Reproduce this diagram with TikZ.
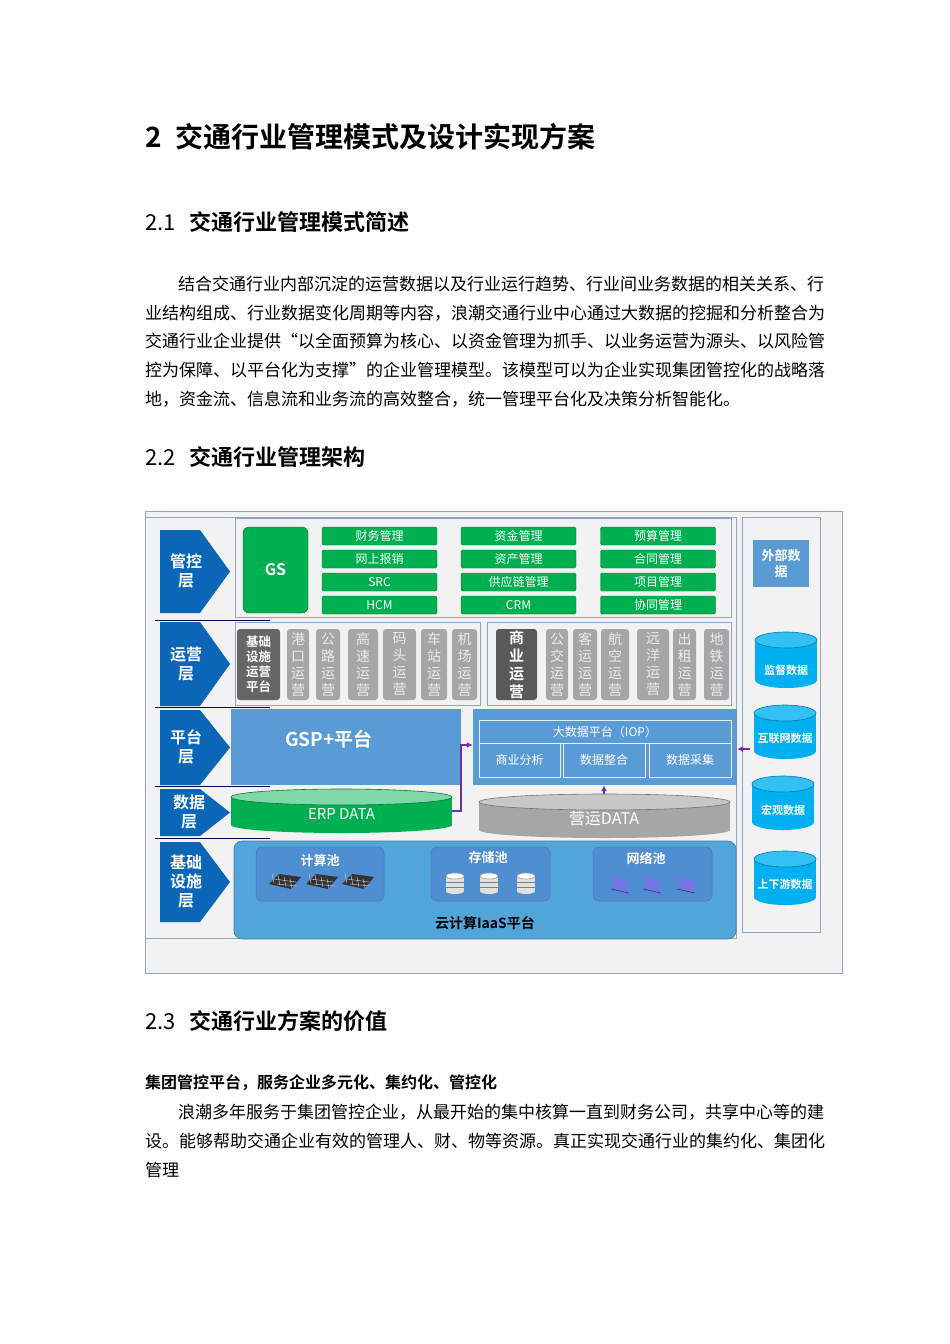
\documentclass[tikz,border=0pt]{standalone}
\usepackage{fontspec}
\usetikzlibrary{arrows.meta}
\setmainfont{Noto Sans CJK SC}[BoldFont=* Bold]
\definecolor{lblue}{HTML}{0B66B8}
\definecolor{mblue}{HTML}{5B9BD5}
\definecolor{pblue}{HTML}{4F8ED0}
\definecolor{ggreen}{HTML}{00B050}
\definecolor{cyanc}{HTML}{00B0F0}
\definecolor{bgg}{HTML}{F2F2F2}
\definecolor{frame}{HTML}{8EA6C4}
\definecolor{purp}{HTML}{7030A0}
\newcommand\fs[2]{\fontsize{#1}{#2}\selectfont}
\newcommand\mycyl[7]{%
 \colorlet{cylbody}{#6}\colorlet{cyltop}{#7}%
 \fill[cylbody] ({#1-#3},#2) rectangle ({#1+#3},{#2+#4});
 \fill[cylbody] (#1,{#2+#4}) ellipse[x radius=#3,y radius=#5];
 \filldraw[fill=cyltop,draw=cylbody!70!black,line width=0.6pt] (#1,#2) ellipse[x radius=#3,y radius=#5];}
\newcommand\lchev[4]{% x0 y0 x1 y1
 \fill[lblue] (#1,#2) -- ({#3-30},#2) -- (#3,{(#2+#4)/2}) -- ({#3-30},#4) -- (#1,#4) -- cycle;}
\begin{document}
\begin{tikzpicture}[x=1pt,y=-1pt,
 gbox/.style={fill=ggreen,draw=ggreen!70!black,line width=0.4pt,rounded corners=1.5pt,text=white,font=\fs{12}{12},inner sep=0pt},
 laylab/.style={text=white,font=\bfseries\fs{16}{19},align=center},
 vt/.style={fill=black!35,rounded corners=3pt,text=black!8,font=\fs{14}{17},align=center,inner sep=0pt},
 vtd/.style={fill=black!60,rounded corners=3pt,text=white,font=\bfseries\fs{14}{17},align=center,inner sep=0pt},
 bb/.style={draw=white!85!mblue,line width=1pt,fill=mblue,text=white,font=\fs{12}{12},inner sep=0pt},
 pool/.style={fill=pblue,rounded corners=6pt,draw=pblue!85!black,line width=0.5pt},
 parr/.style={draw=purp,line width=1.6pt,-{Latex[length=6pt,width=6pt]}},
 body/.style={anchor=west,font=\fs{17}{17},inner sep=0pt}]
\useasboundingbox (0,0) rectangle (950,1344);
\fill[white] (0,0) rectangle (950,1344);
% headings
\node[anchor=west,inner sep=0pt,font=\bfseries\fs{28}{28}] (h1) at (145,137) {2\hspace{14pt}交通行业管理模式及设计实现方案};
\node[anchor=west,inner sep=0pt,font=\fs{22}{22}] (h21) at (145,222) {2.1\hspace{14pt}{\bfseries 交通行业管理模式简述}};
\node[body] (p1) at (178,284) {结合交通行业内部沉淀的运营数据以及行业运行趋势、行业间业务数据的相关关系、行};
\node[body] (p2) at (145,313) {业结构组成、行业数据变化周期等内容，浪潮交通行业中心通过大数据的挖掘和分析整合为};
\node[body] (p3) at (145,341) {交通行业企业提供“以全面预算为核心、以资金管理为抓手、以业务运营为源头、以风险管};
\node[body] (p4) at (145,370) {控为保障、以平台化为支撑”的企业管理模型。该模型可以为企业实现集团管控化的战略落};
\node[body] (p5) at (145,399) {地，资金流、信息流和业务流的高效整合，统一管理平台化及决策分析智能化。};
\node[anchor=west,inner sep=0pt,font=\fs{22}{22}] (h22) at (145,457) {2.2\hspace{14pt}{\bfseries 交通行业管理架构}};
% diagram frame
\filldraw[fill=bgg,draw=frame,line width=0.8pt] (145,511) rectangle (842,973);
\draw[frame,line width=0.6pt] (145,517) rectangle (736,938);
% layers
\lchev{160}{530}{230}{613}\node[laylab] (l1) at (186,571) {管控\\层};
\lchev{160}{622}{230}{706}\node[laylab] (l2) at (186,664) {运营\\层};
\lchev{160}{710}{230}{785}\node[laylab] (l3) at (186,747) {平台\\层};
\lchev{160}{789}{230}{836}\node[laylab] (l4) at (189,812) {数据\\层};
\lchev{160}{842}{230}{922}\node[laylab] (l5) at (186,881) {基础\\设施\\层};
\foreach \yy in {620,707,786,838} \draw[black!70!blue,line width=0.8pt] (155,\yy) -- (270,\yy);
% top box
\filldraw[fill=bgg,draw=frame,line width=0.8pt] (235,518) rectangle (731,617);
\node[fill=ggreen,draw=ggreen!60!black,rounded corners=6pt,minimum width=65pt,minimum height=86pt,text=white,font=\bfseries\fs{16}{16}] (gs) at (275.5,570) {GS};
\foreach \x/\a/\b/\c/\d [count=\i] in {379.5/财务管理/网上报销/SRC/HCM,518.5/资金管理/资产管理/供应链管理/CRM,658/预算管理/合同管理/项目管理/协同管理}{
 \node[gbox,minimum width=115pt,minimum height=18pt] (g\i a) at (\x,536) {\a};
 \node[gbox,minimum width=115pt,minimum height=18pt] (g\i b) at (\x,559) {\b};
 \node[gbox,minimum width=115pt,minimum height=18pt] (g\i c) at (\x,582) {\c};
 \node[gbox,minimum width=115pt,minimum height=18pt] (g\i d) at (\x,605) {\d};}
% operations
\draw[frame,line width=0.8pt] (235,622) rectangle (480,705);
\draw[frame,line width=0.8pt] (487,622) rectangle (731,705);
\node[vtd,minimum width=43pt,minimum height=71pt,font=\bfseries\fs{12.5}{15}] (o0) at (258.5,664.5) {基础\\设施\\运营\\平台};
\foreach \x/\w/\t [count=\i] in {298/22/港\\口\\运\\营,328/24/公\\路\\运\\营,363/30/高\\速\\运\\营,399.5/33/码\\头\\运\\营,434/26/车\\站\\运\\营,464.5/25/机\\场\\运\\营}
 \node[vt,minimum width=\w pt,minimum height=71pt] (oa\i) at (\x,664.5) {\t};
\node[vtd,minimum width=41pt,minimum height=71pt,fill=black!65,font=\bfseries\fs{15}{18}] (ob0) at (516.5,664.5) {商\\业\\运\\营};
\foreach \x/\w/\t [count=\i] in {557/22/公\\交\\运\\营,585/24/客\\运\\运\\营,615/28/航\\空\\运\\营,653/32/远\\洋\\运\\营,684.5/23/出\\租\\运\\营,716.5/25/地\\铁\\运\\营}
 \node[vt,minimum width=\w pt,minimum height=71pt] (ob\i) at (\x,664.5) {\t};
% platform
\node[fill=mblue,minimum width=230pt,minimum height=76pt,inner sep=0pt] (gsp) at (346,747) {};
\node[text=white,font=\bfseries\fs{19}{19}] (gspt) at (329,739) {GSP+平台};
\node[fill=mblue,minimum width=264pt,minimum height=76pt,inner sep=0pt] (iop) at (605,747) {};
\node[bb,minimum width=252pt,minimum height=23pt] (iopt) at (605,731.5) {大数据平台（IOP）};
\node[bb,minimum width=81pt,minimum height=34pt] (b1) at (519.5,760) {商业分析};
\node[bb,minimum width=82pt,minimum height=34pt] (b2) at (604,760) {数据整合};
\node[bb,minimum width=82pt,minimum height=34pt] (b3) at (690,760) {数据采集};
% data layer
\mycyl{341.5}{797}{110.5}{28}{8}{ggreen}{ggreen!50!white}
\node[text=white,font=\fs{15}{15}] (erp) at (341.5,814) {ERP DATA};
\mycyl{604.5}{802}{125.5}{28}{8}{black!35}{black!22}
\node[text=white,font=\fs{16}{16}] (yy) at (604,818) {营运DATA};
\coordinate (erpR) at (452,811);
\coordinate (yyT) at (604,794);
\draw[parr] (erpR) -- (461,811) -- (461,745) -- (iop.west|-0,745);
\draw[parr] (yyT) -- (iop.south-|yyT);
% external column
\draw[frame,line width=0.8pt] (742,517) rectangle (820,932);
\node[fill=mblue,minimum width=56pt,minimum height=47pt,text=white,font=\bfseries\fs{13}{16},align=center] (ext) at (781,563.5) {外部数\\据};
\mycyl{786}{640}{31}{40}{8}{cyanc}{cyanc!80!white}
\node[text=white,font=\bfseries\fs{11}{11}] (c1) at (786,670) {监督数据};
\mycyl{785}{713}{31}{38}{8}{cyanc}{cyanc!80!white}
\node[text=white,font=\bfseries\fs{11}{11}] (c2) at (785,738) {互联网数据};
\mycyl{783}{784}{31}{38}{8}{cyanc}{cyanc!80!white}
\node[text=white,font=\bfseries\fs{11}{11}] (c3) at (783,810) {宏观数据};
\mycyl{785}{859}{31}{38}{8}{cyanc}{cyanc!80!white}
\node[text=white,font=\bfseries\fs{11}{11}] (c4) at (785,884) {上下游数据};
\coordinate (colL) at (750,749);
\draw[parr] (colL) -- (iop.east|-colL);
% infrastructure
\node[fill=mblue!90!cyan,draw=mblue!80!black,line width=0.6pt,rounded corners=8pt,minimum width=502pt,minimum height=98pt] (iaas) at (485,890) {};
\node[font=\bfseries\fs{14}{14}] (iaast) at (485,923) {云计算IaaS平台};
\draw[pool] (256,847) rectangle (384,901); \node[text=white,font=\bfseries\fs{13}{13}] (pc) at (320,860) {计算池};
\draw[pool] (431,847) rectangle (550,901); \node[text=white,font=\bfseries\fs{13}{13}] (ps) at (488,858) {存储池};
\draw[pool] (593,847) rectangle (712,901); \node[text=white,font=\bfseries\fs{13}{13}] (pn) at (646,858) {网络池};
\foreach \cx in {285,322,358}{
 \fill[black!80] (\cx-16,884) -- (\cx-6,874) -- (\cx+16,877) -- (\cx+6,889) -- cycle;
 \foreach \k in {-9,-3,3,9} \draw[white!70!gray,line width=0.4pt] (\cx+\k-4,876+\k*0.3) -- (\cx+\k-2,886+\k*0.3);
 \draw[white!70!gray,line width=0.4pt] (\cx-11,879) -- (\cx+11,882) (\cx-8,884) -- (\cx+12,886);}
\foreach \cx in {455,489,526}{\mycyl{\cx}{876}{9}{15}{3}{white!88!black}{white}
 \draw[gray,line width=0.4pt] (\cx-9,882) -- (\cx+9,882) (\cx-9,887) -- (\cx+9,887);}
\foreach \cx in {620,652,686}{
 \foreach \k in {-6,-2,2,6} \fill[purp!35!blue!60!white] (\cx+\k-1.5,\k*0.4+878) rectangle (\cx+\k+1.5,\k*0.4+891);
 \draw[purp!60!black,line width=0.5pt] (\cx-9,889) -- (\cx+9,893);}
% section 2.3
\node[anchor=west,inner sep=0pt,font=\fs{22}{22}] (h23) at (145,1021) {2.3\hspace{14pt}{\bfseries 交通行业方案的价值}};
\node[anchor=west,inner sep=0pt,font=\bfseries\fs{16}{16}] (s1) at (145,1083) {集团管控平台，服务企业多元化、集约化、管控化};
\node[body] (q1) at (178,1112) {浪潮多年服务于集团管控企业，从最开始的集中核算一直到财务公司，共享中心等的建};
\node[body] (q2) at (145,1141) {设。能够帮助交通企业有效的管理人、财、物等资源。真正实现交通行业的集约化、集团化};
\node[body] (q3) at (145,1170) {管理};
\end{tikzpicture}
\end{document}
